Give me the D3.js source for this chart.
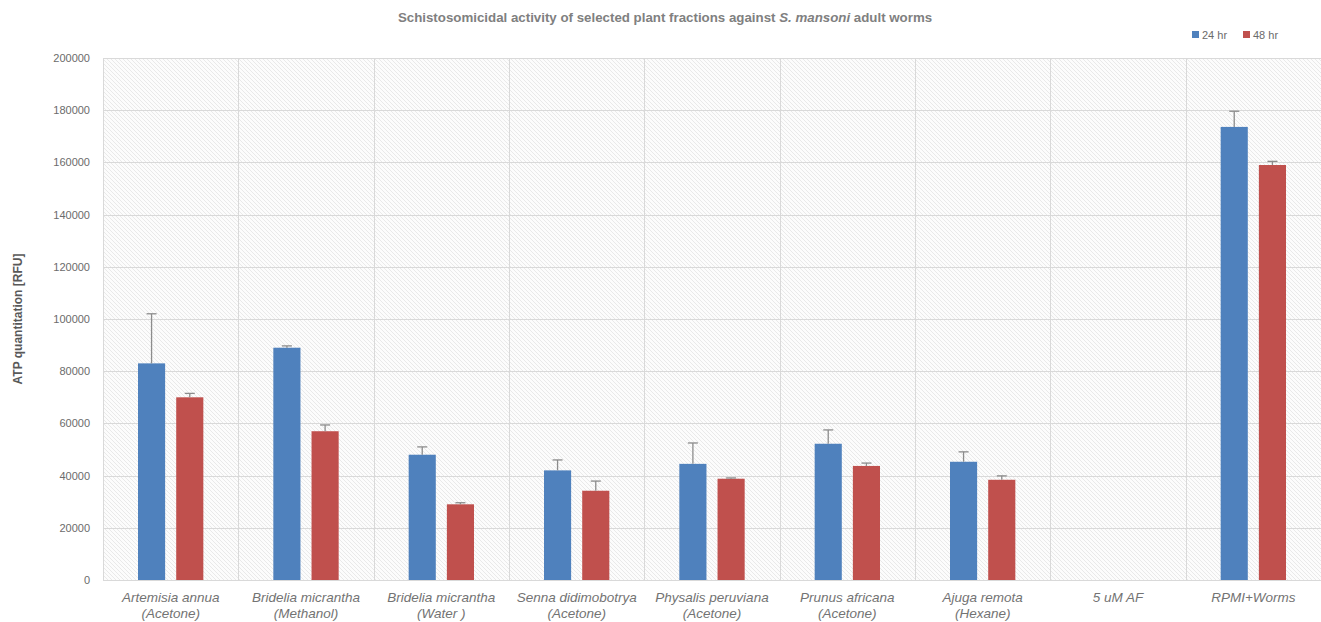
<!DOCTYPE html>
<html><head><meta charset="utf-8">
<script src="https://cdn.jsdelivr.net/npm/d3@7"></script>
<style>body{margin:0;background:#fff}svg{display:block}</style>
</head><body><svg id="c" width="1321" height="622"></svg>
<script>
const categories = [
  ["Artemisia annua","(Acetone)"],
  ["Bridelia micrantha","(Methanol)"],
  ["Bridelia micrantha","(Water )"],
  ["Senna didimobotrya","(Acetone)"],
  ["Physalis peruviana","(Acetone)"],
  ["Prunus africana","(Acetone)"],
  ["Ajuga remota","(Hexane)"],
  ["5 uM AF"],
  ["RPMI+Worms"]
];
const series = ["24 hr","48 hr"];
const values24 = [83000, 89000, 48000, 42000, 44500, 52200, 45300, 0, 173600];
const err24    = [19000, 700, 3000, 4000, 8000, 5300, 3800, 0, 6000];
const values48 = [70000, 57000, 29000, 34200, 38800, 43700, 38400, 0, 159000];
const err48    = [1500, 2400, 600, 3700, 300, 1100, 1500, 0, 1400];
const yTicks = [0,20000,40000,60000,80000,100000,120000,140000,160000,180000,200000];
const colors = ["#4F81BD","#C0504D"];

const svg = d3.select("#c");
const L=103, R=1321, T=58, B=580;
const x = d3.scaleBand().domain(d3.range(categories.length)).range([L,R]);
const xs = d3.scaleBand().domain(series).range([35, x.bandwidth()-35]).paddingInner(0.29);
const y = d3.scaleLinear().domain([0,200000]).range([B,T]);

const defs = svg.append("defs");
const pat = defs.append("pattern").attr("id","hatch").attr("patternUnits","userSpaceOnUse")
  .attr("width",4).attr("height",4);
pat.append("rect").attr("width",4).attr("height",4).attr("fill","#fcfcfc");
pat.append("path").attr("d","M-1,-1L5,5M-1,3L1,5M3,-1L5,1").attr("stroke","#e6e6e6").attr("stroke-width",0.9);

svg.append("rect").attr("x",L).attr("y",T).attr("width",R-L).attr("height",B-T).attr("fill","url(#hatch)");

// gridlines
svg.append("g").selectAll("line").data(yTicks).join("line")
  .attr("x1",L).attr("x2",R).attr("y1",d=>Math.round(y(d))+0.5).attr("y2",d=>Math.round(y(d))+0.5)
  .attr("stroke","#d9d9d9");
svg.append("g").selectAll("line").data(d3.range(categories.length+1)).join("line")
  .attr("x1",d=>Math.round(L+d*x.step())+0.5).attr("x2",d=>Math.round(L+d*x.step())+0.5)
  .attr("y1",T).attr("y2",B).attr("stroke","#d9d9d9");

// y axis labels
const yAxis = d3.axisLeft(y).tickValues(yTicks).tickSize(0).tickPadding(13).tickFormat(d3.format("d"));
const ga = svg.append("g").attr("transform",`translate(${L},0)`).call(yAxis);
ga.select(".domain").remove();
ga.selectAll("text").attr("font-family","Liberation Sans, Arial, sans-serif").attr("font-size",11).attr("fill","#6b6b6b");

// bars
const data = categories.map((c,i)=>[
  {s:series[0],v:values24[i],e:err24[i],i},
  {s:series[1],v:values48[i],e:err48[i],i}
]).flat();
const gb = svg.append("g");
gb.selectAll("rect").data(data.filter(d=>d.v>0)).join("rect")
  .attr("x",d=>x(d.i)+xs(d.s)).attr("width",xs.bandwidth())
  .attr("y",d=>y(d.v)).attr("height",d=>y(0)-y(d.v))
  .attr("fill",d=>colors[series.indexOf(d.s)]);
// error bars
const ge = svg.append("g").attr("stroke","#8c8c8c").attr("stroke-width",1.3);
data.filter(d=>d.v>0).forEach(d=>{
  const cx = x(d.i)+xs(d.s)+xs.bandwidth()/2;
  ge.append("line").attr("x1",cx).attr("x2",cx).attr("y1",y(d.v)).attr("y2",y(d.v+d.e));
  ge.append("line").attr("x1",cx-5).attr("x2",cx+5).attr("y1",y(d.v+d.e)).attr("y2",y(d.v+d.e));
});

// x labels
const gx = svg.append("g").attr("font-family","Liberation Sans, Arial, sans-serif").attr("font-size",13.5)
  .attr("font-style","italic").attr("fill","#737373").attr("text-anchor","middle");
categories.forEach((c,i)=>{
  c.forEach((line,j)=>{
    gx.append("text").attr("x",x(i)+x.bandwidth()/2).attr("y",602+j*15.5).text(line);
  });
});

// title
const t = svg.append("text").attr("x",665).attr("y",22).attr("text-anchor","middle")
  .attr("font-family","Liberation Sans, Arial, sans-serif").attr("font-size",13.3).attr("font-weight","bold").attr("fill","#808080");
t.append("tspan").text("Schistosomicidal activity  of selected plant fractions against ");
t.append("tspan").attr("font-style","italic").text("S. mansoni");
t.append("tspan").text(" adult worms");

// y title
svg.append("text").attr("transform","translate(22,319) rotate(-90)").attr("text-anchor","middle")
  .attr("font-family","Liberation Sans, Arial, sans-serif").attr("font-size",12).attr("font-weight","bold").attr("fill","#595959")
  .text("ATP quantitation [RFU]");

// legend
const lg = svg.append("g").attr("font-family","Liberation Sans, Arial, sans-serif").attr("font-size",11).attr("fill","#6b6b6b");
const lx = [1192, 1243];
series.forEach((s,i)=>{
  lg.append("rect").attr("x",lx[i]).attr("y",31).attr("width",7).attr("height",7).attr("fill",colors[i]);
  lg.append("text").attr("x",lx[i]+10).attr("y",38.5).text(s);
});
</script></body></html>
